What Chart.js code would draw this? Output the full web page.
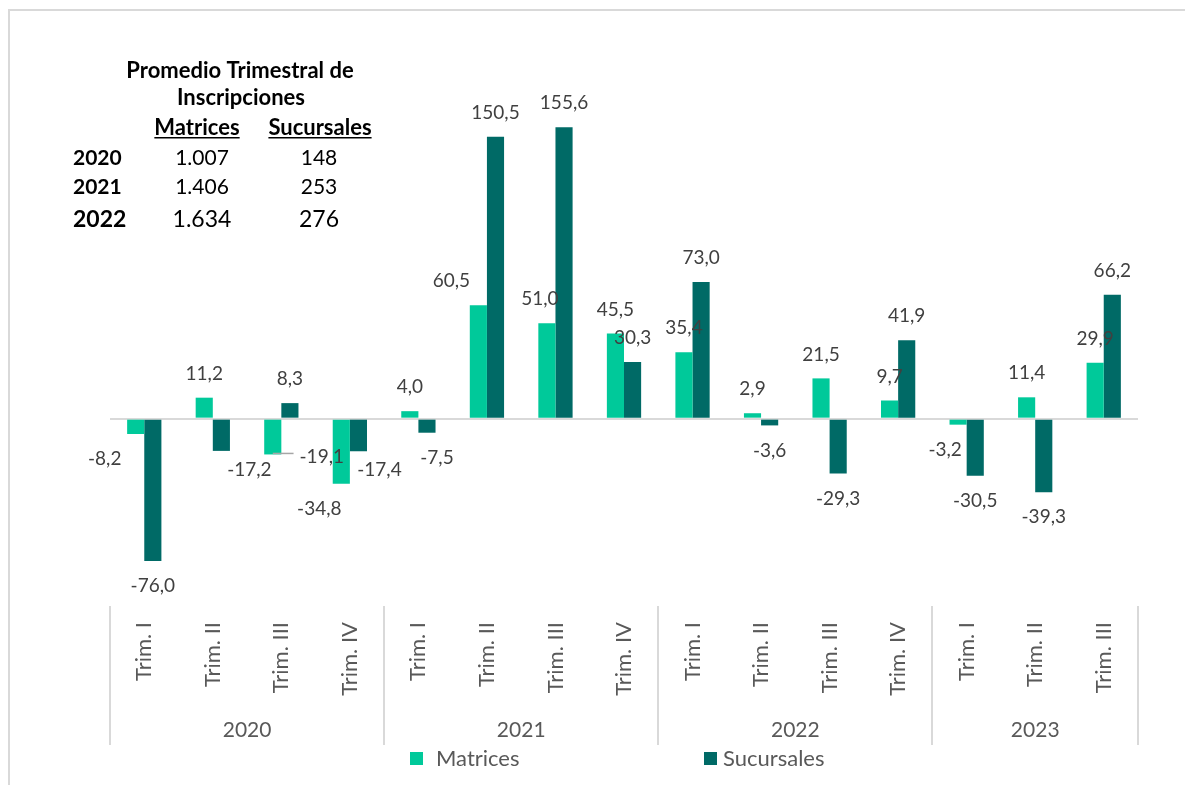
<!DOCTYPE html>
<html>
<head>
<meta charset="utf-8">
<script src="https://cdn.jsdelivr.net/npm/chart.js@4.4.1/dist/chart.umd.min.js"></script>
<style>
  body { margin: 0; background: #fff; }
  #wrap { position: relative; width: 1185px; height: 785px; overflow: hidden; }
  #marco { position: absolute; left: 8px; top: 9px; width: 1200px; height: 800px;
           border-left: 2px solid #d9d9d9; border-top: 2px solid #d9d9d9; }
  canvas { position: absolute; left: 0; top: 0; }
</style>
</head>
<body>
<div id="wrap">
  <div id="marco"></div>
  <canvas id="grafico" width="1185" height="785"></canvas>
</div>
<script>
const categorias = ['Trim. I', 'Trim. II', 'Trim. III', 'Trim. IV',
                    'Trim. I', 'Trim. II', 'Trim. III', 'Trim. IV',
                    'Trim. I', 'Trim. II', 'Trim. III', 'Trim. IV',
                    'Trim. I', 'Trim. II', 'Trim. III'];
const anios = ['2020', '2021', '2022', '2023'];
const trimestresPorAnio = [4, 4, 4, 3];
const matrices = [-8.2, 11.2, -19.1, -34.8, 4.0, 60.5, 51.0, 45.5, 35.4, 2.9, 21.5, 9.7, -3.2, 11.4, 29.9];
const sucursales = [-76.0, -17.2, 8.3, -17.4, -7.5, 150.5, 155.6, 30.3, 73.0, -3.6, -29.3, 41.9, -30.5, -39.3, 66.2];

const tablaAnios = ['2020', '2021', '2022'];
const tablaMatrices = ['1.007', '1.406', '1.634'];
const tablaSucursales = ['148', '253', '276'];

const FUENTE = 'Lato, "Open Sans", sans-serif';
const VERDE = '#00C99A';
const TEAL = '#006A66';

// etiquetas que en el original fueron movidas a mano
const labelShift = {
  '0:0': [-31, 0], '0:2': [49, -23], '0:3': [-22, 0], '0:5': [-27, 0],
  '0:6': [-7, 0], '0:12': [-13, 0],
  '1:1': [28, -6], '1:3': [21, -6], '1:4': [10, 0]
};
const conLinea = ['0:2'];

const fmt = v => v.toFixed(1).replace('.', ',');

const etiquetasPlugin = {
  id: 'etiquetas',
  afterDatasetsDraw(chart) {
    const ctx = chart.ctx;
    ctx.save();
    ctx.font = '19px ' + FUENTE;
    ctx.fillStyle = '#404040';
    ctx.textAlign = 'center';
    ctx.textBaseline = 'middle';
    chart.data.datasets.forEach((ds, di) => {
      chart.getDatasetMeta(di).data.forEach((bar, i) => {
        const v = ds.data[i];
        let x = bar.x;
        let y = v >= 0 ? bar.y - 24 : bar.y + 25;
        const key = di + ':' + i;
        if (labelShift[key]) { x += labelShift[key][0]; y += labelShift[key][1]; }
        const txt = fmt(v);
        if (conLinea.includes(key)) {
          const w = ctx.measureText(txt).width;
          ctx.strokeStyle = '#a6a6a6';
          ctx.lineWidth = 1.5;
          ctx.beginPath();
          ctx.moveTo(bar.x, bar.y - 1);
          ctx.lineTo(x - w / 2 - 6, bar.y - 1);
          ctx.stroke();
        }
        ctx.fillText(txt, x, y);
      });
    });
    ctx.restore();
  }
};

const gruposPlugin = {
  id: 'grupos',
  afterDraw(chart) {
    const ctx = chart.ctx;
    const area = chart.chartArea;
    const xs = chart.scales.x;
    const paso = (area.right - area.left) / categorias.length;
    ctx.save();
    ctx.strokeStyle = '#d9d9d9';
    ctx.lineWidth = 2;
    let inicio = 0;
    const bordes = [];
    trimestresPorAnio.forEach((n, g) => {
      const izq = xs.getPixelForValue(inicio) - paso / 2;
      const der = xs.getPixelForValue(inicio + n - 1) + paso / 2;
      bordes.push(izq, der);
      ctx.font = '21px ' + FUENTE;
      ctx.fillStyle = '#595959';
      ctx.textAlign = 'center';
      ctx.textBaseline = 'middle';
      ctx.fillText(anios[g], (izq + der) / 2, area.bottom + 124);
      inicio += n;
    });
    [...new Set(bordes.map(b => Math.round(b)))].forEach(b => {
      ctx.beginPath();
      ctx.moveTo(b, area.bottom);
      ctx.lineTo(b, area.bottom + 139);
      ctx.stroke();
    });

    // leyenda
    const items = [[410, 436], [704, 723]];
    ctx.font = '22px ' + FUENTE;
    ctx.textAlign = 'left';
    chart.data.datasets.forEach((ds, i) => {
      ctx.fillStyle = ds.backgroundColor;
      ctx.fillRect(items[i][0], 752, 13, 13);
      ctx.fillStyle = '#595959';
      ctx.fillText(ds.label, items[i][1], 759);
    });

    // tabla de promedios
    ctx.fillStyle = '#000';
    ctx.textAlign = 'center';
    ctx.textBaseline = 'alphabetic';
    ctx.font = 'bold 22px ' + FUENTE;
    ctx.fillText('Promedio Trimestral de', 240, 78);
    ctx.fillText('Inscripciones', 241, 105);
    const cab = [['Matrices', 197], ['Sucursales', 320]];
    cab.forEach(([t, cx]) => {
      ctx.fillText(t, cx, 135);
      const w = ctx.measureText(t).width;
      ctx.fillRect(cx - w / 2, 137, w, 1.5);
    });
    const bases = [165, 194, 227];
    tablaAnios.forEach((a, i) => {
      const tam = i === 2 ? 23 : 21;
      ctx.textAlign = 'left';
      ctx.font = 'bold ' + tam + 'px ' + FUENTE;
      ctx.fillText(a, 73, bases[i]);
      ctx.textAlign = 'center';
      ctx.font = tam + 'px ' + FUENTE;
      ctx.fillText(tablaMatrices[i], 202, bases[i]);
      ctx.fillText(tablaSucursales[i], 319, bases[i]);
    });
    ctx.restore();
  }
};

new Chart(document.getElementById('grafico'), {
  type: 'bar',
  data: {
    labels: categorias,
    datasets: [
      { label: 'Matrices', data: matrices, backgroundColor: VERDE,
        categoryPercentage: 0.5, barPercentage: 1.0 },
      { label: 'Sucursales', data: sucursales, backgroundColor: TEAL,
        categoryPercentage: 0.5, barPercentage: 1.0 }
    ]
  },
  options: {
    responsive: false,
    animation: false,
    layout: { padding: { left: 110, right: 47, top: 44, bottom: 0 } },
    plugins: { legend: { display: false }, tooltip: { enabled: false } },
    scales: {
      x: {
        grid: { display: false, drawTicks: false },
        border: { display: false },
        ticks: {
          minRotation: 90, maxRotation: 90, padding: 16, autoSkip: false,
          color: '#595959', font: { family: FUENTE, size: 22 }
        },
        afterFit(s) { s.height = 179; }
      },
      y: {
        min: -100, max: 200,
        ticks: { display: false, stepSize: 50 },
        border: { display: false },
        grid: {
          drawTicks: false, lineWidth: 2,
          color: c => c.tick.value === 0 ? '#d9d9d9' : 'transparent'
        },
        afterFit(s) { s.width = 0; }
      }
    }
  },
  plugins: [etiquetasPlugin, gruposPlugin]
});
</script>
</body>
</html>
